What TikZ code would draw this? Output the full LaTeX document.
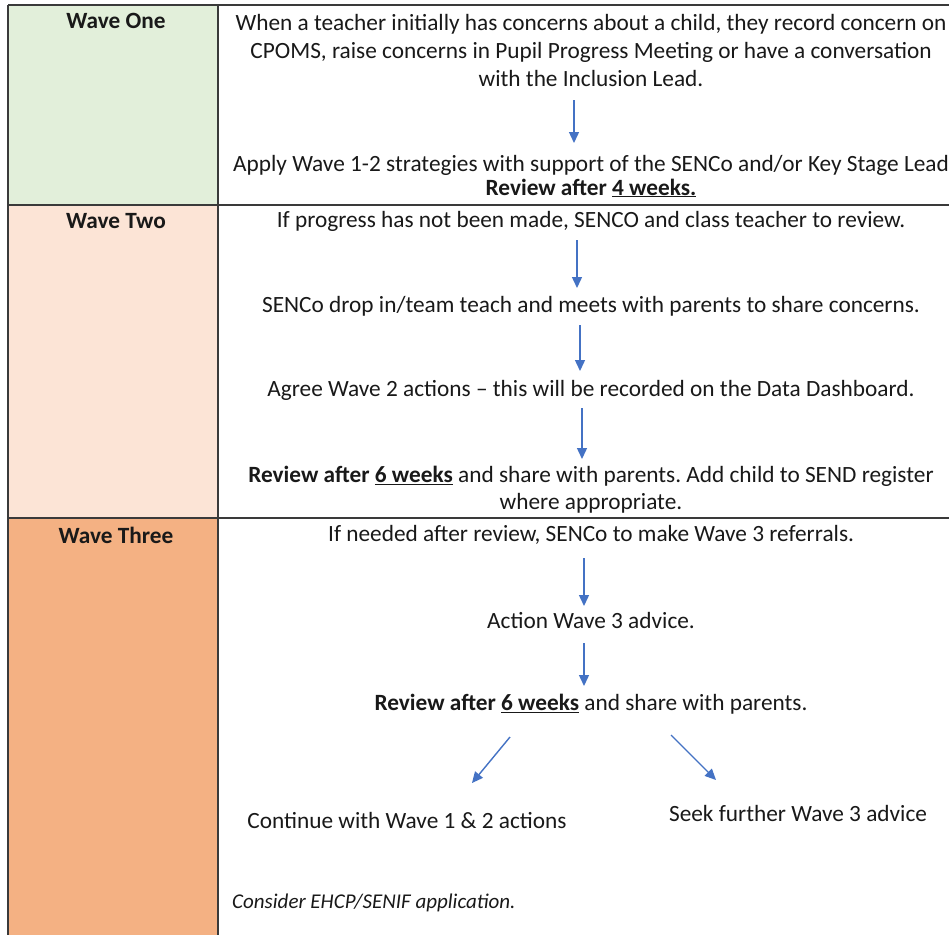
\documentclass[tikz,border=0pt]{standalone}
\usepackage{fontspec}
\setmainfont{Carlito}
\usetikzlibrary{arrows.meta}
\definecolor{waveone}{HTML}{E2EFDA}
\definecolor{wavetwo}{HTML}{FCE4D6}
\definecolor{wavethree}{HTML}{F4B183}
\definecolor{arrowblue}{HTML}{4472C4}
\definecolor{gridgray}{HTML}{3A3A3A}
\newcommand{\mainsize}{\fontsize{23.3}{28}\selectfont}
\newcommand{\smallsize}{\fontsize{21}{24}\selectfont}
\frenchspacing
\tikzset{
  txt/.style={font=\mainsize, inner sep=0pt, align=center, text=black!90},
  hdr/.style={font=\mainsize\bfseries, inner sep=0pt, text=black!90},
  flow/.style={draw=arrowblue, line width=1.4pt, -{Triangle[length=11pt,width=10pt]}},
  grid/.style={draw=gridgray, line width=1.4pt}
}
\begin{document}
\begin{tikzpicture}[x=1pt,y=-1pt]
\useasboundingbox (0,0) rectangle (949,935);
\fill[white] (0,0) rectangle (949,935);
% column fills
\fill[waveone] (8,5) rectangle (218,205);
\fill[wavetwo] (8,205) rectangle (218,518);
\fill[wavethree] (8,518) rectangle (218,935);
% grid
\draw[grid] (8,5) -- (949,5);
\draw[grid] (8,205) -- (949,205);
\draw[grid] (8,518) -- (949,518);
\draw[grid] (8,5) -- (8,935);
\draw[grid] (218,5) -- (218,935);
% headers
\node[hdr] (h1) at (116,21) {Wave One};
\node[hdr] (h2) at (116,221) {Wave Two};
\node[hdr] (h3) at (116,535) {Wave Three};
% row 1
\node[txt] (t1) at (591,50) {When a teacher initially has concerns about a child, they record concern on\\CPOMS, raise concerns in Pupil Progress Meeting or have a conversation\\with the Inclusion Lead.};
\node[txt] (t2) at (591,176) {Apply Wave 1-2 strategies with support of the SENCo and/or Key Stage Lead\\[-4pt]\textbf{Review after \underline{4 weeks.}}};
\coordinate (a1s) at (574,100);
\coordinate (a1e) at (574,143);
\draw[flow] (a1s) -- (a1e);
% row 2
\node[txt] (t3) at (591,221) {If progress has not been made, SENCO and class teacher to review.};
\node[txt] (t4) at (591,306) {SENCo drop in/team teach and meets with parents to share concerns.};
\node[txt] (t5) at (591,390) {Agree Wave 2 actions – this will be recorded on the Data Dashboard.};
\node[txt] (t6) at (591,489.5) {\textbf{Review after \underline{6 weeks}} and share with parents. Add child to SEND register\\[-1pt]where appropriate.};
\coordinate (a2s) at (577,240);
\coordinate (a2e) at (577,288);
\coordinate (a3s) at (580,325);
\coordinate (a3e) at (580,371);
\coordinate (a4s) at (582,408);
\coordinate (a4e) at (582,459);
\draw[flow] (a2s) -- (a2e);
\draw[flow] (a3s) -- (a3e);
\draw[flow] (a4s) -- (a4e);
% row 3
\node[txt] (t7) at (591,535) {If needed after review, SENCo to make Wave 3 referrals.};
\node[txt] (t8) at (591,620) {Action Wave 3 advice.};
\node[txt] (t9) at (591,704) {\textbf{Review after \underline{6 weeks}} and share with parents.};
\node[txt] (t10) at (407,820) {Continue with Wave 1 \& 2 actions};
\node[txt] (t11) at (798,813) {Seek further Wave 3 advice};
\node[font=\smallsize\itshape, inner sep=0pt, anchor=west, text=black!90] (t12) at (232,903) {Consider EHCP/SENIF application.};
\coordinate (a5s) at (584,558);
\coordinate (a5e) at (584,606);
\coordinate (a6s) at (584,643);
\coordinate (a6e) at (584,686);
\coordinate (a7s) at (510,737);
\coordinate (a7e) at (472,783);
\coordinate (a8s) at (671,735);
\coordinate (a8e) at (716,780);
\draw[flow] (a5s) -- (a5e);
\draw[flow] (a6s) -- (a6e);
\draw[flow] (a7s) -- (a7e);
\draw[flow] (a8s) -- (a8e);
\end{tikzpicture}
\end{document}
